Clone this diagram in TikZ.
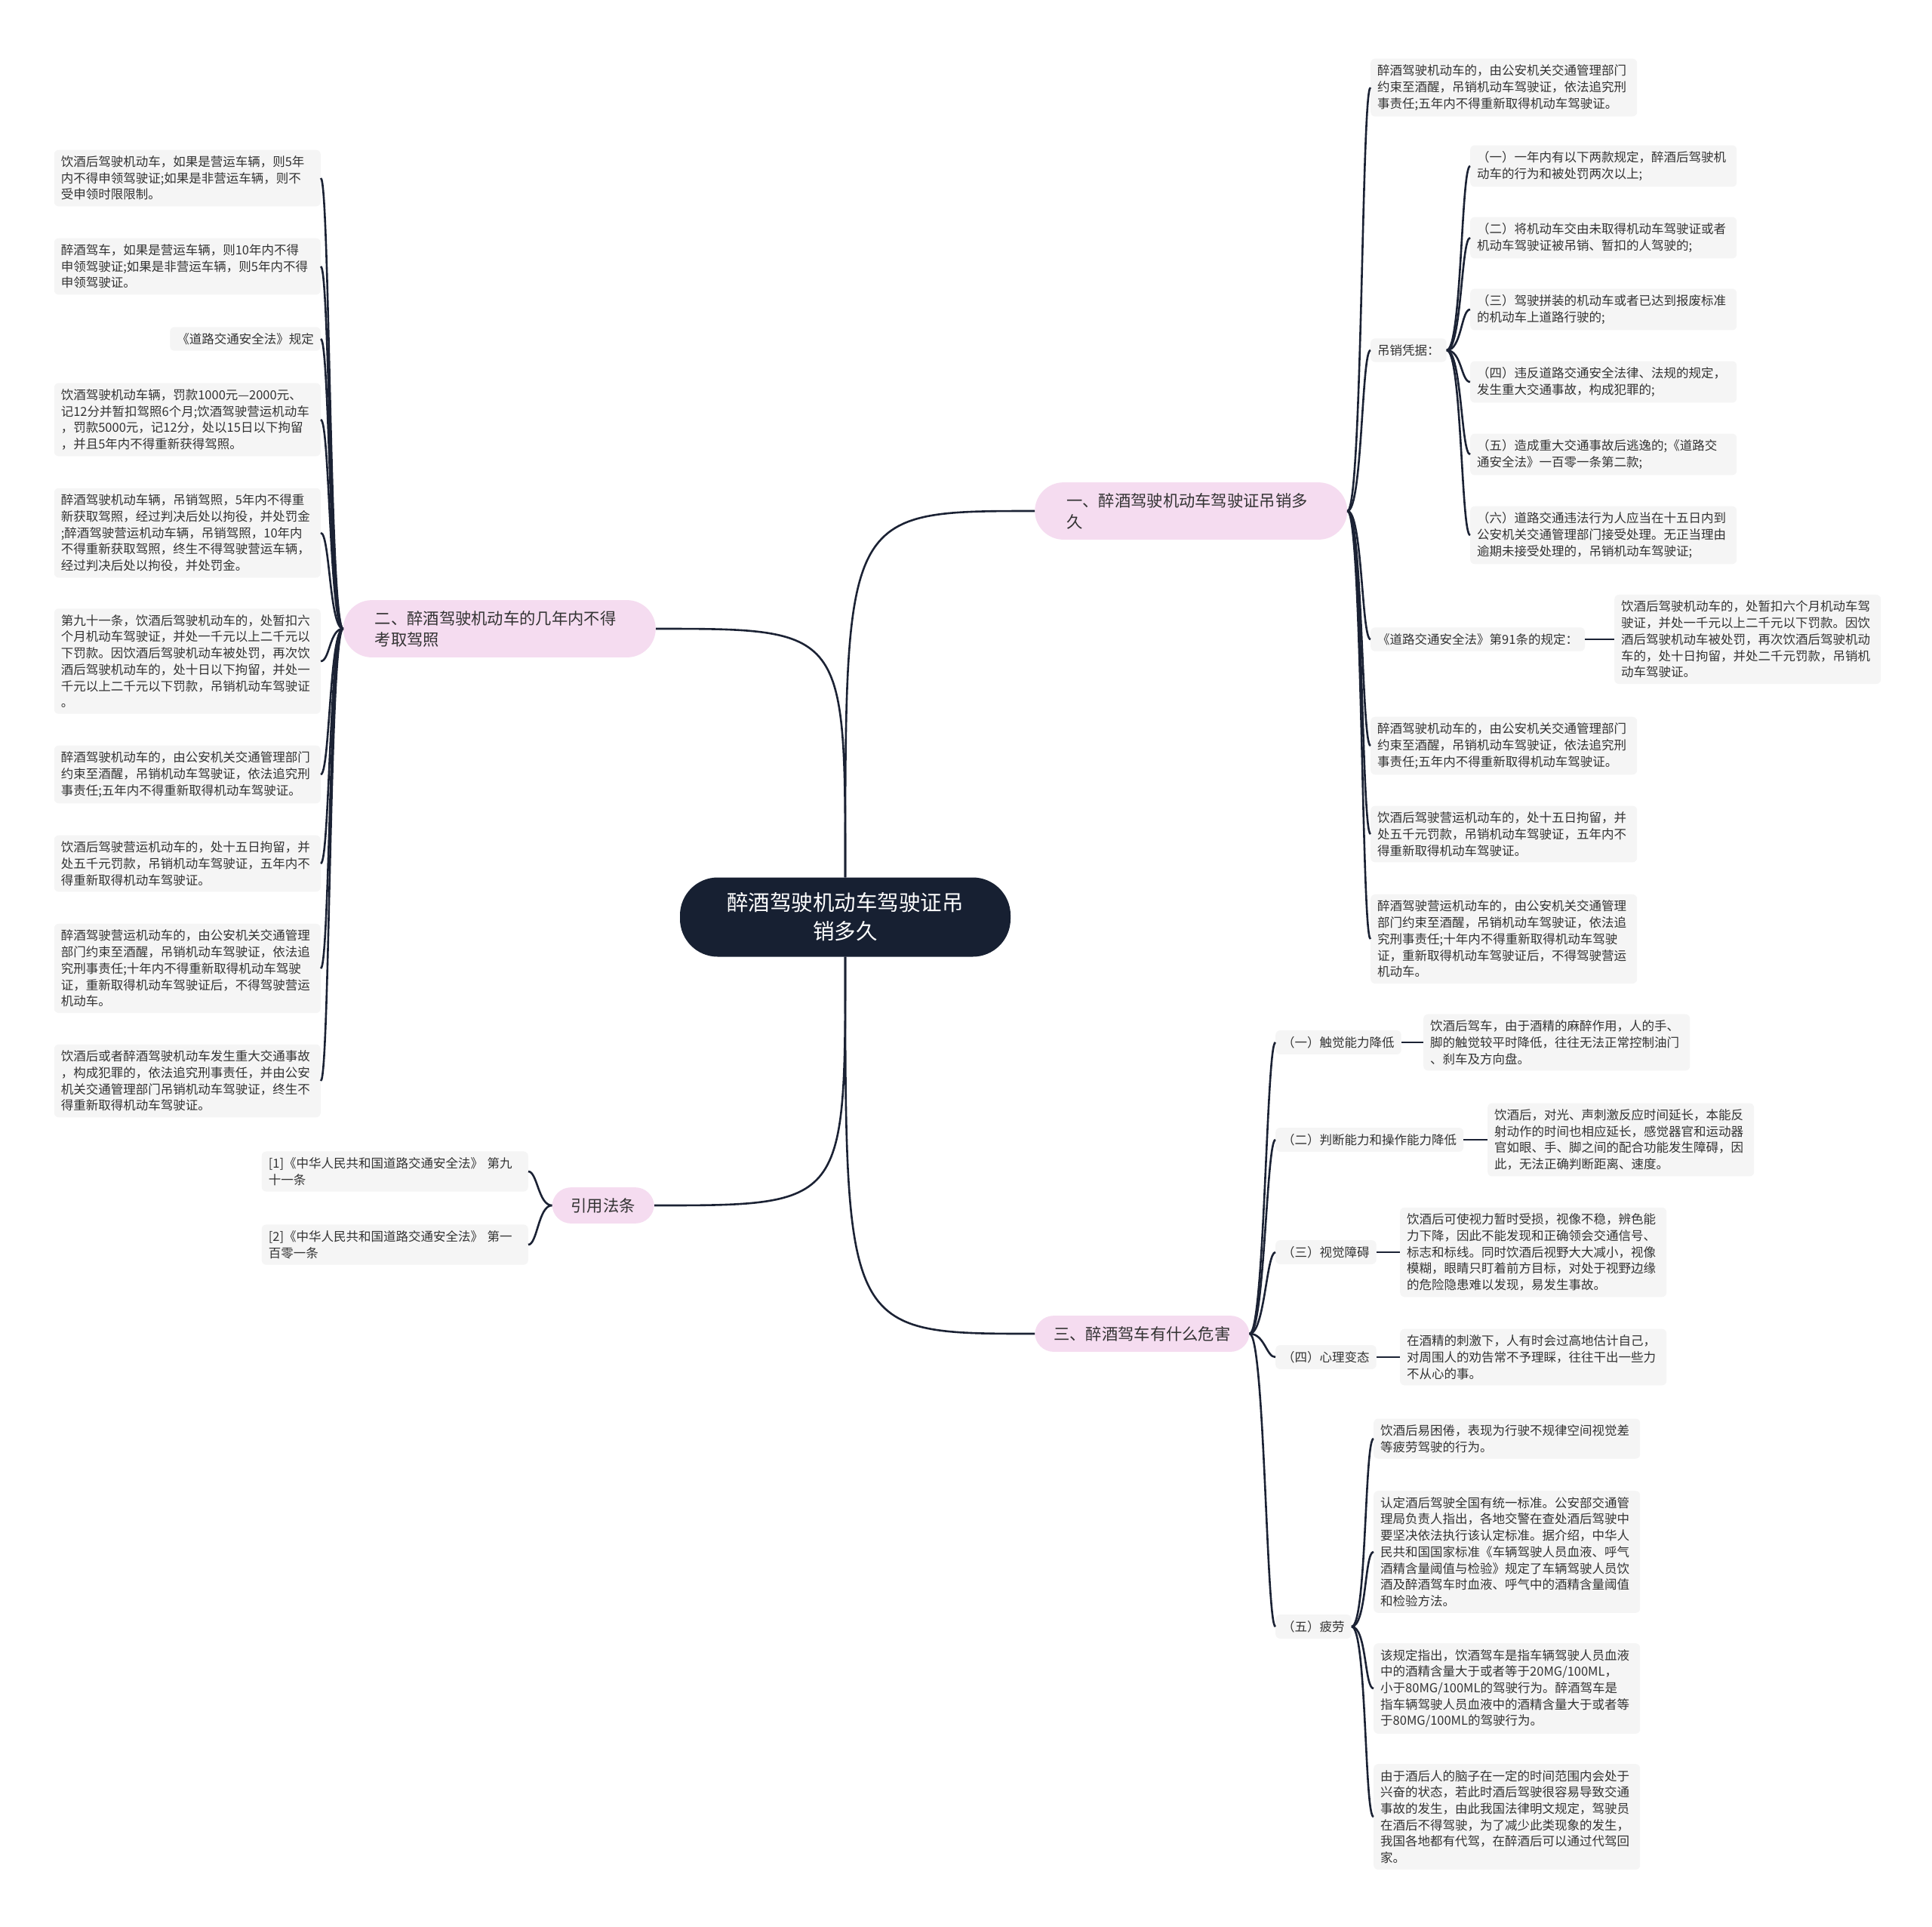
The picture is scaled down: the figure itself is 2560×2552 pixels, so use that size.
\documentclass[tikz,border=0pt]{standalone}
\usepackage{fontspec}
\setmainfont{Noto Sans CJK SC}
\definecolor{Ink}{HTML}{1B2234}
\definecolor{Night}{HTML}{172032}
\definecolor{Blush}{HTML}{F5DCF0}
\definecolor{Cloud}{HTML}{F5F5F5}
\definecolor{Graphite}{HTML}{333333}
\tikzset{
  root/.style={
    rounded corners=50pt, fill=Night, text=white, minimum width=438pt,
    minimum height=105pt, align=center, font=\fontsize{28.5}{38}\selectfont
  },
  topic/.style={
    fill=Blush, text=Graphite, inner xsep=25pt, inner ysep=14pt,
    align=left, font=\fontsize{21.3}{28}\selectfont
  },
  tag/.style={
    rounded corners=6pt, fill=Cloud, text=Graphite, inner xsep=9pt,
    inner ysep=8pt, align=left, font=\fontsize{16.5}{21.7}\selectfont
  },
  leaf/.style={tag, text width=335pt},
  link/.style={draw=Ink, line width=2.6pt},
  rbrace/.style={to path={.. controls +(20,0) and +(-12,0) .. (\tikztotarget)}},
  lbrace/.style={to path={.. controls +(-18,0) and +(12,0) .. (\tikztotarget)}}
}

\begin{document}
\begin{tikzpicture}[x=1pt,y=-1pt]
  \fill[white] (0,0) rectangle (2560,2552);
  \useasboundingbox (0,0) rectangle (2560,2552);

  % centre and main topics
  \node[root] (root) at (1120,1215) {醉酒驾驶机动车驾驶证吊\\销多久};
  \node[topic,rounded corners=38pt,text width=330pt,inner xsep=42pt,anchor=west] (b1) at (1371,677) {一、醉酒驾驶机动车驾驶证吊销多\\久};
  \node[topic,rounded corners=38pt,text width=330pt,inner xsep=42pt,anchor=east] (b2) at (869,833) {二、醉酒驾驶机动车的几年内不得\\考取驾照};
  \node[topic,rounded corners=25pt,anchor=west] (b3) at (1371,1767) {三、醉酒驾车有什么危害};
  \node[topic,rounded corners=25pt,anchor=east] (b4) at (867,1597) {引用法条};

  \draw[link] (root.north) .. controls (root.north |- b1.west) .. (b1.west);
  \draw[link] (root.north) .. controls (root.north |- b2.east) .. (b2.east);
  \draw[link] (root.south) .. controls (root.south |- b3.west) .. (b3.west);
  \draw[link] (root.south) .. controls (root.south |- b4.east) .. (b4.east);

  % branch one
  \node[leaf,anchor=west] (r1) at (1816,116) {醉酒驾驶机动车的，由公安机关交通管理部门\\约束至酒醒，吊销机动车驾驶证，依法追究刑\\事责任;五年内不得重新取得机动车驾驶证。};
  \node[tag,anchor=west] (basis) at (1816,464) {吊销凭据：};
  \node[leaf,anchor=west] (s1) at (1948,220) {（一）一年内有以下两款规定，醉酒后驾驶机\\动车的行为和被处罚两次以上;};
  \node[leaf,anchor=west] (s2) at (1948,315) {（二）将机动车交由未取得机动车驾驶证或者\\机动车驾驶证被吊销、暂扣的人驾驶的;};
  \node[leaf,anchor=west] (s3) at (1948,410) {（三）驾驶拼装的机动车或者已达到报废标准\\的机动车上道路行驶的;};
  \node[leaf,anchor=west] (s4) at (1948,506) {（四）违反道路交通安全法律、法规的规定，\\发生重大交通事故，构成犯罪的;};
  \node[leaf,anchor=west] (s5) at (1948,602) {（五）造成重大交通事故后逃逸的;《道路交\\通安全法》一百零一条第二款;};
  \node[leaf,anchor=west] (s6) at (1948,709) {（六）道路交通违法行为人应当在十五日内到\\公安机关交通管理部门接受处理。无正当理由\\逾期未接受处理的，吊销机动车驾驶证;};
  \node[tag,anchor=west] (art91) at (1816,847) {《道路交通安全法》第91条的规定：};
  \node[leaf,anchor=west] (art91t) at (2139,847) {饮酒后驾驶机动车的，处暂扣六个月机动车驾\\驶证，并处一千元以上二千元以下罚款。因饮\\酒后驾驶机动车被处罚，再次饮酒后驾驶机动\\车的，处十日拘留，并处二千元罚款，吊销机\\动车驾驶证。};
  \node[leaf,anchor=west] (r3) at (1816,988) {醉酒驾驶机动车的，由公安机关交通管理部门\\约束至酒醒，吊销机动车驾驶证，依法追究刑\\事责任;五年内不得重新取得机动车驾驶证。};
  \node[leaf,anchor=west] (r4) at (1816,1105) {饮酒后驾驶营运机动车的，处十五日拘留，并\\处五千元罚款，吊销机动车驾驶证，五年内不\\得重新取得机动车驾驶证。};
  \node[leaf,anchor=west] (r5) at (1816,1244) {醉酒驾驶营运机动车的，由公安机关交通管理\\部门约束至酒醒，吊销机动车驾驶证，依法追\\究刑事责任;十年内不得重新取得机动车驾驶\\证，重新取得机动车驾驶证后，不得驾驶营运\\机动车。};

  \draw[link] (b1.east) to[rbrace] (r1.west);
  \draw[link] (b1.east) to[rbrace] (basis.west);
  \draw[link] (b1.east) to[rbrace] (art91.west);
  \draw[link] (b1.east) to[rbrace] (r3.west);
  \draw[link] (b1.east) to[rbrace] (r4.west);
  \draw[link] (b1.east) to[rbrace] (r5.west);
  \draw[link] (basis.east) to[rbrace] (s1.west);
  \draw[link] (basis.east) to[rbrace] (s2.west);
  \draw[link] (basis.east) to[rbrace] (s3.west);
  \draw[link] (basis.east) to[rbrace] (s4.west);
  \draw[link] (basis.east) to[rbrace] (s5.west);
  \draw[link] (basis.east) to[rbrace] (s6.west);
  \draw[link] (art91.east) -- (art91t.west);

  % branch two
  \node[leaf,anchor=east] (l1) at (425,236) {饮酒后驾驶机动车，如果是营运车辆，则5年\\内不得申领驾驶证;如果是非营运车辆，则不\\受申领时限限制。};
  \node[leaf,anchor=east] (l2) at (425,353) {醉酒驾车，如果是营运车辆，则10年内不得\\申领驾驶证;如果是非营运车辆，则5年内不得\\申领驾驶证。};
  \node[tag,anchor=east] (l3) at (425,449) {《道路交通安全法》规定};
  \node[leaf,anchor=east] (l4) at (425,556) {饮酒驾驶机动车辆，罚款1000元—2000元、\\记12分并暂扣驾照6个月;饮酒驾驶营运机动车\\，罚款5000元，记12分，处以15日以下拘留\\，并且5年内不得重新获得驾照。};
  \node[leaf,anchor=east] (l5) at (425,706) {醉酒驾驶机动车辆，吊销驾照，5年内不得重\\新获取驾照，经过判决后处以拘役，并处罚金\\;醉酒驾驶营运机动车辆，吊销驾照，10年内\\不得重新获取驾照，终生不得驾驶营运车辆，\\经过判决后处以拘役，并处罚金。};
  \node[leaf,anchor=east] (l6) at (425,876) {第九十一条，饮酒后驾驶机动车的，处暂扣六\\个月机动车驾驶证，并处一千元以上二千元以\\下罚款。因饮酒后驾驶机动车被处罚，再次饮\\酒后驾驶机动车的，处十日以下拘留，并处一\\千元以上二千元以下罚款，吊销机动车驾驶证\\。};
  \node[leaf,anchor=east] (l7) at (425,1026) {醉酒驾驶机动车的，由公安机关交通管理部门\\约束至酒醒，吊销机动车驾驶证，依法追究刑\\事责任;五年内不得重新取得机动车驾驶证。};
  \node[leaf,anchor=east] (l8) at (425,1144) {饮酒后驾驶营运机动车的，处十五日拘留，并\\处五千元罚款，吊销机动车驾驶证，五年内不\\得重新取得机动车驾驶证。};
  \node[leaf,anchor=east] (l9) at (425,1283) {醉酒驾驶营运机动车的，由公安机关交通管理\\部门约束至酒醒，吊销机动车驾驶证，依法追\\究刑事责任;十年内不得重新取得机动车驾驶\\证，重新取得机动车驾驶证后，不得驾驶营运\\机动车。};
  \node[leaf,anchor=east] (l10) at (425,1432) {饮酒后或者醉酒驾驶机动车发生重大交通事故\\，构成犯罪的，依法追究刑事责任，并由公安\\机关交通管理部门吊销机动车驾驶证，终生不\\得重新取得机动车驾驶证。};

  \draw[link] (b2.west) to[lbrace] (l1.east);
  \draw[link] (b2.west) to[lbrace] (l2.east);
  \draw[link] (b2.west) to[lbrace] (l3.east);
  \draw[link] (b2.west) to[lbrace] (l4.east);
  \draw[link] (b2.west) to[lbrace] (l5.east);
  \draw[link] (b2.west) to[lbrace] (l6.east);
  \draw[link] (b2.west) to[lbrace] (l7.east);
  \draw[link] (b2.west) to[lbrace] (l8.east);
  \draw[link] (b2.west) to[lbrace] (l9.east);
  \draw[link] (b2.west) to[lbrace] (l10.east);

  % branch three
  \node[tag,anchor=west] (h1) at (1690,1381) {（一）触觉能力降低};
  \node[tag,anchor=west] (h2) at (1690,1510) {（二）判断能力和操作能力降低};
  \node[tag,anchor=west] (h3) at (1690,1659) {（三）视觉障碍};
  \node[tag,anchor=west] (h4) at (1690,1798) {（四）心理变态};
  \node[tag,anchor=west] (h5) at (1690,2155) {（五）疲劳};
  \node[leaf,anchor=west] (h1t) at (1886,1381) {饮酒后驾车，由于酒精的麻醉作用，人的手、\\脚的触觉较平时降低，往往无法正常控制油门\\、刹车及方向盘。};
  \node[leaf,anchor=west] (h2t) at (1971,1510) {饮酒后，对光、声刺激反应时间延长，本能反\\射动作的时间也相应延长，感觉器官和运动器\\官如眼、手、脚之间的配合功能发生障碍，因\\此，无法正确判断距离、速度。};
  \node[leaf,anchor=west] (h3t) at (1855,1659) {饮酒后可使视力暂时受损，视像不稳，辨色能\\力下降，因此不能发现和正确领会交通信号、\\标志和标线。同时饮酒后视野大大减小，视像\\模糊，眼睛只盯着前方目标，对处于视野边缘\\的危险隐患难以发现，易发生事故。};
  \node[leaf,anchor=west] (h4t) at (1855,1798) {在酒精的刺激下，人有时会过高地估计自己，\\对周围人的劝告常不予理睬，往往干出一些力\\不从心的事。};
  \node[leaf,anchor=west] (f1) at (1820,1906) {饮酒后易困倦，表现为行驶不规律空间视觉差\\等疲劳驾驶的行为。};
  \node[leaf,anchor=west] (f2) at (1820,2056) {认定酒后驾驶全国有统一标准。公安部交通管\\理局负责人指出，各地交警在查处酒后驾驶中\\要坚决依法执行该认定标准。据介绍，中华人\\民共和国国家标准《车辆驾驶人员血液、呼气\\酒精含量阈值与检验》规定了车辆驾驶人员饮\\酒及醉酒驾车时血液、呼气中的酒精含量阈值\\和检验方法。};
  \node[leaf,anchor=west] (f3) at (1820,2237) {该规定指出，饮酒驾车是指车辆驾驶人员血液\\中的酒精含量大于或者等于20MG/100ML，\\小于80MG/100ML的驾驶行为。醉酒驾车是\\指车辆驾驶人员血液中的酒精含量大于或者等\\于80MG/100ML的驾驶行为。};
  \node[leaf,anchor=west] (f4) at (1820,2407) {由于酒后人的脑子在一定的时间范围内会处于\\兴奋的状态，若此时酒后驾驶很容易导致交通\\事故的发生，由此我国法律明文规定，驾驶员\\在酒后不得驾驶，为了减少此类现象的发生，\\我国各地都有代驾，在醉酒后可以通过代驾回\\家。};

  \draw[link] (b3.east) to[rbrace] (h1.west);
  \draw[link] (b3.east) to[rbrace] (h2.west);
  \draw[link] (b3.east) to[rbrace] (h3.west);
  \draw[link] (b3.east) to[rbrace] (h4.west);
  \draw[link] (b3.east) to[rbrace] (h5.west);
  \draw[link] (h1.east) -- (h1t.west);
  \draw[link] (h2.east) -- (h2t.west);
  \draw[link] (h3.east) -- (h3t.west);
  \draw[link] (h4.east) -- (h4t.west);
  \draw[link] (h5.east) to[rbrace] (f1.west);
  \draw[link] (h5.east) to[rbrace] (f2.west);
  \draw[link] (h5.east) to[rbrace] (f3.west);
  \draw[link] (h5.east) to[rbrace] (f4.west);

  % cited articles
  \node[leaf,anchor=east] (ref1) at (700,1552) {[1]《中华人民共和国道路交通安全法》 第九\\十一条};
  \node[leaf,anchor=east] (ref2) at (700,1649) {[2]《中华人民共和国道路交通安全法》 第一\\百零一条};
  \draw[link] (b4.west) to[lbrace] (ref1.east);
  \draw[link] (b4.west) to[lbrace] (ref2.east);
\end{tikzpicture}
\end{document}
